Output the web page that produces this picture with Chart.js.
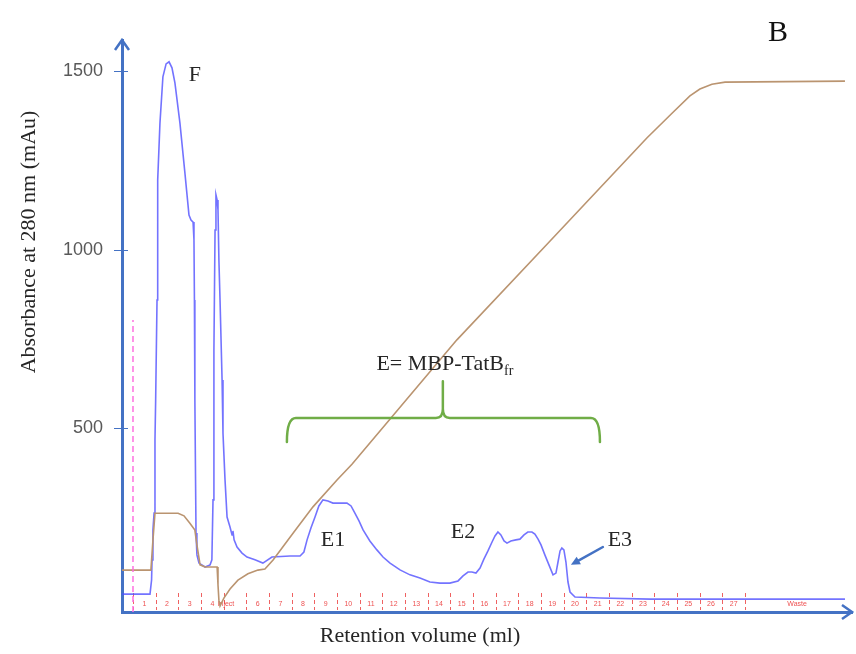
<!DOCTYPE html>
<html>
<head>
<meta charset="utf-8">
<title>Affinity chromatogram</title>
<script src="https://cdn.jsdelivr.net/npm/chart.js@4.4.1/dist/chart.umd.min.js"></script>
<style>
    html, body { margin: 0; padding: 0; background: #fff; }
    #chart { display: block; }
</style>
</head>
<body>
<canvas id="chart" width="856" height="654"></canvas>
<script>
/* ------------------- Data ------------------ */

// A280 trace (retention volume in ml, absorbance in mAu)
const a280Ml = [-0.49,0.75,0.82,0.84,0.88,0.93,0.97,1.00,1.06,1.08,
    1.10,1.19,1.32,1.46,1.59,1.72,1.85,2.07,2.29,2.47,
    2.56,2.65,2.69,2.71,2.73,2.76,2.78,2.82,2.91,3.18,
    3.40,3.48,3.53,3.57,3.62,3.66,3.71,3.75,3.79,3.84,
    3.93,3.97,4.06,4.15,4.28,4.37,4.41,4.46,4.59,4.81,
    5.03,5.38,5.73,6.13,6.93,7.37,7.54,7.68,7.85,8.03,
    8.20,8.38,8.60,8.82,9.13,9.44,9.62,9.79,9.97,10.15,
    10.45,10.76,11.03,11.34,11.78,12.22,12.66,13.10,13.54,13.98,
    14.34,14.56,14.78,14.95,15.13,15.31,15.48,15.66,15.84,15.97,
    16.10,16.23,16.37,16.50,16.67,16.89,17.07,17.25,17.42,17.60,
    17.73,17.87,18.00,18.17,18.35,18.53,18.66,18.75,18.84,18.92,
    19.01,19.10,19.19,19.28,19.50,20.60,22.81,31.41];
const a280Mau = [36,36,76,132,216,263,468,580,860,1028,
    1196,1356,1485,1521,1527,1510,1468,1356,1216,1098,
    1084,1078,1028,860,580,356,207,146,123,112,
    118,132,300,720,1056,1154,1140,1112,972,860,
    636,487,356,252,224,202,213,188,168,151,
    140,132,123,140,143,143,154,188,221,252,
    283,300,297,291,291,291,283,263,241,216,
    185,160,140,123,104,90,81,70,67,67,
    73,87,98,98,95,109,134,157,182,199,
    210,202,185,179,185,188,190,202,210,210,
    204,190,174,146,118,90,95,126,157,165,
    160,126,70,42,28,25,22,22];

// gradient / %B trace (brown)
const gradMl = [-0.49,0.79,0.88,0.97,1.06,1.99,2.25,2.51,2.73,2.82,
    2.96,3.18,3.71,3.75,3.79,3.84,4.01,4.28,4.63,5.07,
    5.51,5.82,6.18,7.06,7.94,9.00,9.66,14.29,18.39,22.67,
    23.78,24.57,25.01,25.54,26.12,31.41];
const gradPct = [7.0,7.0,12.7,17.8,17.8,17.8,17.3,15.9,14.6,11.8,
    8.0,7.6,7.6,4.2,1.3,0.2,1.7,3.4,5.1,6.3,
    7.0,7.2,8.9,14.0,19.0,24.1,27.1,50.7,69.4,89.0,
    93.7,97.0,98.3,99.2,99.6,99.8];

// injection marker
const injectMl = [0, 0];
const injectMau = [-14, 804];

// fraction collector marks
const fractionEdges = [0,1,2,3,4,5,6,7,8,9,10,11,12,13,14,15,16,17,18,19,20,21,22,23,24,25,26,27];
const fractionLabels = ["1","2","3","4","","6","7","8","9","10","11","12","13","14",
    "15","16","17","18","19","20","21","22","23","24","25","26","27"];

const yTickValues = [500, 1000, 1500];

// annotations, in data units (ml, mAu)
const peakLabels = [
    { text: "F",  ml: 2.73,  mau: 1490 },
    { text: "E1", ml: 8.82,  mau: 188 },
    { text: "E2", ml: 14.56, mau: 210 },
    { text: "E3", ml: 21.48, mau: 188 }
];
const bracket = { left: 6.79, mid: 13.67, right: 20.6, ends: 462, bar: 529, tip: 632 };
const eLabel = { ml: 13.76, mau: 681 };
const e3Arrow = { fromMl: 20.73, fromMau: 168, toMl: 19.32, toMau: 118 };

/* ------------------- Styles ------------------ */

const SERIF = '"Liberation Serif", "Times New Roman", serif';
const SANS = '"Liberation Sans", Arial, sans-serif';
const AXIS_BLUE = "#4472c4";
const TEXT = "#262626";

const toPoints = (xs, ys) => xs.map((v, i) => ({ x: v, y: ys[i] }));

/* ------------------- Drawing helpers ------------------ */

const decorations = {
    id: "decorations",
    beforeDatasetsDraw(chart) {
        const { ctx, chartArea: area, scales: { x } } = chart;
        ctx.save();
        // red fraction ticks on the baseline
        ctx.strokeStyle = "rgba(236,70,70,0.85)";
        ctx.lineWidth = 1;
        ctx.setLineDash([4, 3]);
        for (const ml of fractionEdges) {
            const px = Math.round(x.getPixelForValue(ml)) + 0.5;
            ctx.beginPath();
            ctx.moveTo(px, area.bottom - 19);
            ctx.lineTo(px, area.bottom - 2);
            ctx.stroke();
        }
        ctx.setLineDash([]);
        ctx.fillStyle = "rgba(236,60,60,0.9)";
        ctx.font = `7px ${SANS}`;
        ctx.textAlign = "center";
        ctx.textBaseline = "middle";
        fractionLabels.forEach((t, i) => {
            ctx.fillText(t, x.getPixelForValue(fractionEdges[i] + 0.5), area.bottom - 8);
        });
        ctx.fillText("Inject", x.getPixelForValue(4.1), area.bottom - 8);
        ctx.fillText("Waste", x.getPixelForValue(29.3), area.bottom - 8);
        ctx.restore();
    },
    afterDatasetsDraw(chart) {
        const { ctx, scales: { x, y } } = chart;
        ctx.save();
        ctx.fillStyle = TEXT;
        ctx.textAlign = "center";
        ctx.textBaseline = "middle";

        ctx.font = `22px ${SERIF}`;
        for (const p of peakLabels) {
            ctx.fillText(p.text, x.getPixelForValue(p.ml), y.getPixelForValue(p.mau));
        }

        // E= MBP-TatB with subscript fr
        const main = "E= MBP-TatB";
        ctx.font = `22px ${SERIF}`;
        const wMain = ctx.measureText(main).width;
        ctx.font = `14px ${SERIF}`;
        const wSub = ctx.measureText("fr").width;
        const cx = x.getPixelForValue(eLabel.ml);
        const cy = y.getPixelForValue(eLabel.mau);
        const startX = cx - (wMain + wSub) / 2;
        ctx.textAlign = "left";
        ctx.font = `22px ${SERIF}`;
        ctx.fillText(main, startX, cy);
        ctx.font = `14px ${SERIF}`;
        ctx.fillText("fr", startX + wMain, cy + 7);

        // green curly bracket
        const xl = x.getPixelForValue(bracket.left);
        const xm = x.getPixelForValue(bracket.mid);
        const xr = x.getPixelForValue(bracket.right);
        const yEnd = y.getPixelForValue(bracket.ends);
        const yBar = y.getPixelForValue(bracket.bar);
        const yTip = y.getPixelForValue(bracket.tip);
        ctx.strokeStyle = "#70ad47";
        ctx.lineWidth = 2.5;
        ctx.lineCap = "round";
        ctx.beginPath();
        ctx.moveTo(xl, yEnd);
        ctx.quadraticCurveTo(xl, yBar, xl + 9, yBar);
        ctx.lineTo(xm - 7, yBar);
        ctx.quadraticCurveTo(xm, yBar, xm, yBar - 9);
        ctx.lineTo(xm, yTip);
        ctx.moveTo(xm, yBar - 9);
        ctx.quadraticCurveTo(xm, yBar, xm + 7, yBar);
        ctx.lineTo(xr - 9, yBar);
        ctx.quadraticCurveTo(xr, yBar, xr, yEnd);
        ctx.stroke();

        // arrow pointing at E3
        const ax0 = x.getPixelForValue(e3Arrow.fromMl), ay0 = y.getPixelForValue(e3Arrow.fromMau);
        const ax1 = x.getPixelForValue(e3Arrow.toMl), ay1 = y.getPixelForValue(e3Arrow.toMau);
        const ang = Math.atan2(ay1 - ay0, ax1 - ax0);
        ctx.strokeStyle = AXIS_BLUE;
        ctx.fillStyle = AXIS_BLUE;
        ctx.lineWidth = 2.5;
        ctx.beginPath();
        ctx.moveTo(ax0, ay0);
        ctx.lineTo(ax1 - 6 * Math.cos(ang), ay1 - 6 * Math.sin(ang));
        ctx.stroke();
        ctx.beginPath();
        ctx.moveTo(ax1, ay1);
        ctx.lineTo(ax1 - 10 * Math.cos(ang - 0.45), ay1 - 10 * Math.sin(ang - 0.45));
        ctx.lineTo(ax1 - 10 * Math.cos(ang + 0.45), ay1 - 10 * Math.sin(ang + 0.45));
        ctx.closePath();
        ctx.fill();
        ctx.restore();
    },
    afterDraw(chart) {
        const { ctx, chartArea: area, scales: { y } } = chart;
        ctx.save();
        // y tick marks crossing the axis
        ctx.strokeStyle = AXIS_BLUE;
        ctx.lineWidth = 1;
        for (const v of yTickValues) {
            const py = Math.round(y.getPixelForValue(v)) + 0.5;
            ctx.beginPath();
            ctx.moveTo(area.left - 8, py);
            ctx.lineTo(area.left + 6, py);
            ctx.stroke();
        }
        // arrow heads on both axes
        ctx.lineWidth = 2.5;
        ctx.lineJoin = "miter";
        ctx.beginPath();
        ctx.moveTo(area.left - 7, area.top + 10);
        ctx.lineTo(area.left, area.top);
        ctx.lineTo(area.left + 7, area.top + 10);
        ctx.moveTo(area.right - 10, area.bottom - 7);
        ctx.lineTo(area.right, area.bottom);
        ctx.lineTo(area.right - 10, area.bottom + 7);
        ctx.stroke();

        // axis titles and panel letter
        ctx.fillStyle = TEXT;
        ctx.textAlign = "center";
        ctx.textBaseline = "middle";
        ctx.font = `22px ${SERIF}`;
        ctx.fillText("Retention volume (ml)", 420, 636);
        ctx.save();
        ctx.translate(29, 242);
        ctx.rotate(-Math.PI / 2);
        ctx.fillText("Absorbance at 280 nm (mAu)", 0, 0);
        ctx.restore();
        ctx.font = `30px ${SERIF}`;
        ctx.fillStyle = "#111";
        ctx.fillText("B", 778, 33);
        ctx.restore();
    }
};

/* ------------------- Chart ------------------ */

function init() {
    new Chart(document.getElementById("chart"), {
        type: "line",
        data: {
            datasets: [
                {
                    label: "Inject",
                    data: toPoints(injectMl, injectMau),
                    borderColor: "#ff70e0",
                    borderWidth: 1.5,
                    borderDash: [6, 4],
                    pointRadius: 0,
                    yAxisID: "y"
                },
                {
                    label: "Gradient",
                    data: toPoints(gradMl, gradPct),
                    borderColor: "rgb(186,148,112)",
                    borderWidth: 1.6,
                    pointRadius: 0,
                    tension: 0,
                    yAxisID: "y2"
                },
                {
                    label: "A280",
                    data: toPoints(a280Ml, a280Mau),
                    borderColor: "rgba(80,80,255,0.8)",
                    borderWidth: 1.6,
                    pointRadius: 0,
                    tension: 0,
                    yAxisID: "y"
                }
            ]
        },
        options: {
            responsive: false,
            animation: false,
            devicePixelRatio: 1,
            layout: { padding: { top: 40, right: 4, bottom: 0, left: 0 } },
            plugins: {
                legend: { display: false },
                tooltip: { enabled: false }
            },
            scales: {
                x: {
                    type: "linear",
                    min: -0.485,
                    max: 31.72,
                    grid: { display: false, drawTicks: false },
                    ticks: { display: false },
                    border: { display: true, color: AXIS_BLUE, width: 3 },
                    afterFit: (scale) => { scale.height = 42; }
                },
                y: {
                    type: "linear",
                    min: -14,
                    max: 1588,
                    afterBuildTicks: (scale) => { scale.ticks = yTickValues.map(v => ({ value: v })); },
                    grid: { display: false, drawTicks: false },
                    border: { display: true, color: AXIS_BLUE, width: 3 },
                    ticks: {
                        padding: 19,
                        color: "#595959",
                        font: { family: SANS, size: 18 },
                        callback: (v) => String(v)
                    },
                    afterFit: (scale) => { scale.width = 122; }
                },
                y2: {
                    type: "linear",
                    display: false,
                    min: -0.95,
                    max: 107.6
                }
            }
        },
        plugins: [decorations]
    });
}

document.addEventListener("DOMContentLoaded", init);
</script>
</body>
</html>
